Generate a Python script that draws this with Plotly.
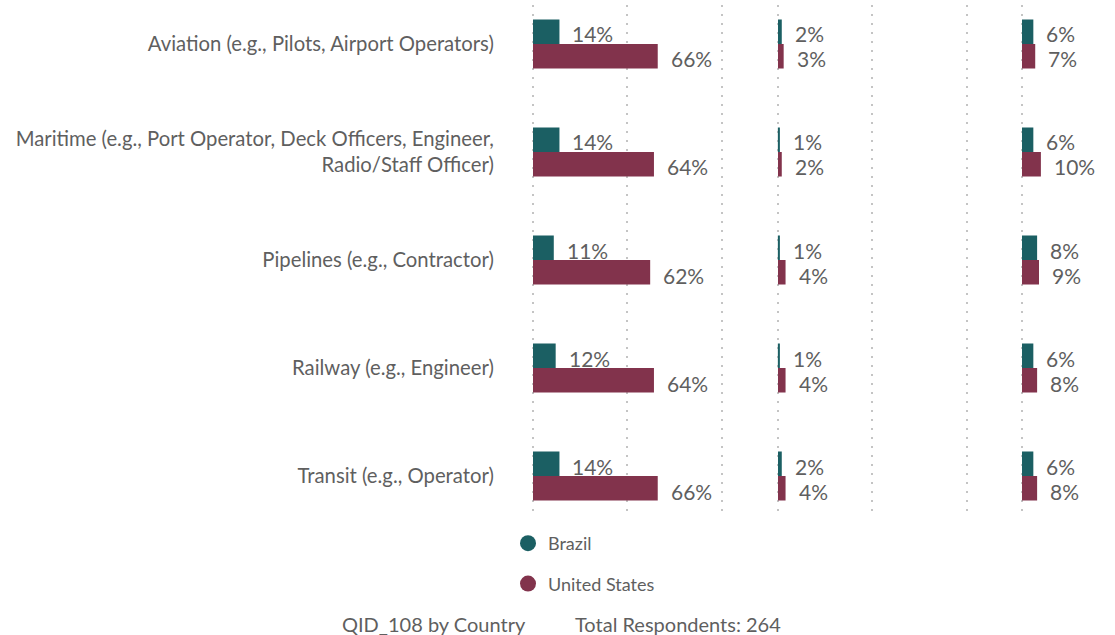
import plotly.graph_objects as go

# Occupations (top to bottom)
categories = [
    "Aviation (e.g., Pilots, Airport Operators)",
    "Maritime (e.g., Port Operator, Deck Officers, Engineer,<br>Radio/Staff Officer)",
    "Pipelines (e.g., Contractor)",
    "Railway (e.g., Engineer)",
    "Transit (e.g., Operator)",
]

# Percent of respondents per answer column, by country
brazil_col1 = [14, 14, 11, 12, 14]
us_col1 = [66, 64, 62, 64, 66]
brazil_col2 = [2, 1, 1, 1, 2]
us_col2 = [3, 2, 4, 4, 4]
brazil_col3 = [6, 6, 8, 6, 6]
us_col3 = [7, 10, 9, 8, 8]

series_names = ["Brazil", "United States"]
footer_left = "QID_108 by Country"
footer_right = "Total Respondents: 264"

BRAZIL = "#1B5F63"
US = "#82334C"
TEXT = "#5F5F5F"
FONT = "Lato, 'Open Sans', sans-serif"

W, H = 1115, 635

columns = [
    (brazil_col1, us_col1, "x"),
    (brazil_col2, us_col2, "x2"),
    (brazil_col3, us_col3, "x3"),
]

fig = go.Figure()
annotations = []
for ci, (bz, us, xa) in enumerate(columns):
    for name, vals, color, yshift in (
        (series_names[0], bz, BRAZIL, 10),
        (series_names[1], us, US, -15),
    ):
        fig.add_trace(go.Bar(
            y=categories, x=vals, orientation="h", name=name,
            marker=dict(color=color, line=dict(width=0)),
            xaxis=xa, yaxis="y", showlegend=False,
        ))
        for cat, v in zip(categories, vals):
            annotations.append(dict(
                x=v, y=cat, xref=xa, yref="y", text=f"{v}%",
                showarrow=False, xanchor="left", yanchor="middle",
                xshift=11, yshift=yshift,
                font=dict(family=FONT, size=21, color=TEXT),
            ))

# Legend entries with round markers
for i, (name, color) in enumerate(zip(series_names, [BRAZIL, US])):
    fig.add_trace(go.Scatter(
        x=[None], y=[None], mode="markers", name=name,
        marker=dict(symbol="circle", size=16, color=color),
        legendgroup=f"g{i}", showlegend=True, xaxis="x", yaxis="y",
    ))

annotations += [
    dict(text=footer_left, x=434 / W, y=-0.005, xref="paper", yref="paper",
         xanchor="center", yanchor="bottom", showarrow=False,
         font=dict(family=FONT, size=20, color=TEXT)),
    dict(text=footer_right, x=678 / W, y=-0.005, xref="paper", yref="paper",
         xanchor="center", yanchor="bottom", showarrow=False,
         font=dict(family=FONT, size=20, color=TEXT)),
]

# 0–100 % spans 189 px; a small pad keeps the 0 and 100 gridlines inside the range
px_per_pct = (722 - 533) / 100.0
pad = 0.6
pad_px = pad * px_per_pct
grid = dict(showgrid=True, gridcolor="#C4C4C4", gridwidth=1.5, griddash="2px,7px",
            dtick=50, tick0=0, zeroline=False, showticklabels=False,
            showline=False, ticks="", fixedrange=True, automargin=False)

fig.update_layout(
    width=W, height=H,
    margin=dict(l=0, r=0, t=0, b=0, autoexpand=False),
    paper_bgcolor="white", plot_bgcolor="white",
    barmode="group", bargap=0.546, bargroupgap=0,
    font=dict(family=FONT, color=TEXT),
    xaxis=dict(domain=[(533 - pad_px) / W, (722 + pad_px) / W],
               range=[-pad, 100 + pad], **grid),
    xaxis2=dict(domain=[(778 - pad_px) / W, (967 + pad_px) / W],
                range=[-pad, 100 + pad], anchor="y", **grid),
    xaxis3=dict(domain=[(1022 - pad_px) / W, 1.0],
                range=[-pad, (W - 1022) / px_per_pct], anchor="y", **grid),
    yaxis=dict(
        domain=[1 - 515 / H, 1 - 5 / H], anchor="x",
        type="category", categoryorder="array", categoryarray=categories,
        range=[4.361, -0.361], showgrid=False, zeroline=False, showline=False,
        ticks="", ticklabelstandoff=37, fixedrange=True, automargin=False,
        tickfont=dict(family=FONT, size=20.3, color=TEXT),
    ),
    legend=dict(
        orientation="v", x=508 / W, y=1 - 525 / H, xanchor="left", yanchor="top",
        font=dict(family=FONT, size=18, color=TEXT), tracegroupgap=14,
        itemsizing="trace", itemwidth=30, bgcolor="rgba(0,0,0,0)",
    ),
    annotations=annotations,
)

fig.write_html("out.html")
